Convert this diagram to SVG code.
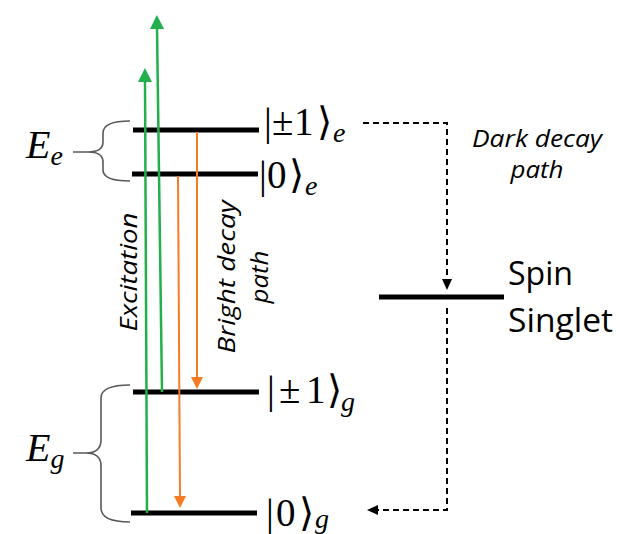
<svg xmlns="http://www.w3.org/2000/svg" width="619" height="534" viewBox="0 0 619 534">
<style>
.lvl{stroke:#000;stroke-width:5;fill:none}
.brace{stroke:#595959;stroke-width:1.6;fill:none}
.grn{stroke:#22b04c;stroke-width:2.5;fill:none}
.org{stroke:#f77b22;stroke-width:2;fill:none}
.dash{stroke:#000;stroke-width:2;fill:none;stroke-dasharray:6 4}
.ket{font-family:"Liberation Serif","DejaVu Serif","DejaVu Sans",serif;font-size:39px;fill:#000}
.sub{font-family:"Liberation Serif","DejaVu Serif",serif;font-style:italic;font-size:28px}
.en{font-family:"Liberation Serif","DejaVu Serif",serif;font-style:italic;font-size:40px;fill:#000}
.lbl{font-family:"Open Sans","Noto Sans","Liberation Sans",sans-serif;font-style:italic;font-size:24px;fill:#000}
.big{font-family:"Open Sans","Noto Sans","Liberation Sans",sans-serif;font-size:33px;fill:#000}
</style>
<defs>
<marker id="mg" markerUnits="userSpaceOnUse" markerWidth="14" markerHeight="14" viewBox="0 0 14 14" refX="2" refY="7" orient="auto"><path d="M0,0 L14,7 L0,14 z" fill="#22b04c"/></marker>
<marker id="mo" markerUnits="userSpaceOnUse" markerWidth="12" markerHeight="12" viewBox="0 0 12 12" refX="2" refY="6" orient="auto"><path d="M0,0 L12,6 L0,12 z" fill="#f77b22"/></marker>
<marker id="mk" markerUnits="userSpaceOnUse" markerWidth="11" markerHeight="10" viewBox="0 0 11 10" refX="2" refY="5" orient="auto"><path d="M0,0 L11,5 L0,10 z" fill="#000"/></marker>
</defs>

<g id="brace-e"><path class="brace" d="M130,121 Q103,121 103,133 L103,142 Q103,152 88,152 L73,152 M88,152 Q103,152 103,162 L103,170 Q103,181 130,181"/></g>
<g id="brace-g"><path class="brace" d="M130,385 Q101,385 101,398 L101,440 Q101,453 86,453 L73,453 M86,453 Q101,453 101,466 L101,508 Q101,522 130,522"/></g>

<g id="level-pm1-e"><line class="lvl" x1="133" y1="130" x2="259" y2="130"/>
<text class="ket" y="135"><tspan x="264">|</tspan><tspan x="272">±</tspan><tspan x="294">1</tspan><tspan x="317">⟩</tspan><tspan class="sub" x="333" dy="7">e</tspan></text></g>
<g id="level-0-e"><line class="lvl" x1="132" y1="174" x2="258" y2="174"/>
<text class="ket" y="188"><tspan x="259">|</tspan><tspan x="267">0</tspan><tspan x="289">⟩</tspan><tspan class="sub" x="305" dy="7">e</tspan></text></g>
<g id="level-pm1-g"><line class="lvl" x1="133" y1="392" x2="259" y2="392"/>
<text class="ket" y="403"><tspan x="267">|</tspan><tspan x="279">±</tspan><tspan x="306">1</tspan><tspan x="327">⟩</tspan><tspan class="sub" x="341" dy="8">g</tspan></text></g>
<g id="level-0-g"><line class="lvl" x1="131" y1="513" x2="257" y2="513"/>
<text class="ket" y="526"><tspan x="266">|</tspan><tspan x="276">0</tspan><tspan x="299">⟩</tspan><tspan class="sub" x="315" dy="2">g</tspan></text></g>
<g id="singlet"><line class="lvl" x1="379" y1="297" x2="504" y2="297"/>
<text class="big" x="508" y="285" textLength="65" lengthAdjust="spacingAndGlyphs">Spin</text>
<text class="big" x="508" y="332" textLength="105" lengthAdjust="spacingAndGlyphs">Singlet</text></g>

<g id="Ee"><text class="en" x="26" y="158">E<tspan class="sub" font-size="28" dy="7">e</tspan></text></g>
<g id="Eg"><text class="en" x="26" y="461">E<tspan class="sub" font-size="28" dy="7">g</tspan></text></g>

<g id="connectors">
<line class="grn" x1="147" y1="513" x2="145" y2="80" marker-end="url(#mg)"/>
<line class="grn" x1="162" y1="392" x2="157" y2="27" marker-end="url(#mg)"/>
<line class="org" x1="178" y1="176" x2="180" y2="498" marker-end="url(#mo)"/>
<line class="org" x1="197" y1="132" x2="197" y2="379" marker-end="url(#mo)"/>
<polyline class="dash" points="363,123 447,123 447,281" marker-end="url(#mk)"/>
<polyline class="dash" points="447,308 447,510 376,510" marker-end="url(#mk)"/>
</g>

<g id="labels">
<text class="lbl" transform="translate(137,272) rotate(-90)" text-anchor="middle" textLength="119" lengthAdjust="spacingAndGlyphs">Excitation</text>
<text class="lbl" transform="translate(235,277) rotate(-90)" text-anchor="middle" textLength="153" lengthAdjust="spacingAndGlyphs">Bright decay</text>
<text class="lbl" transform="translate(268,277) rotate(-90)" text-anchor="middle" textLength="53" lengthAdjust="spacingAndGlyphs">path</text>
<text class="lbl" x="537" y="147" text-anchor="middle" textLength="130" lengthAdjust="spacingAndGlyphs">Dark decay</text>
<text class="lbl" x="537" y="178" text-anchor="middle" textLength="53" lengthAdjust="spacingAndGlyphs">path</text>
</g>
</svg>
